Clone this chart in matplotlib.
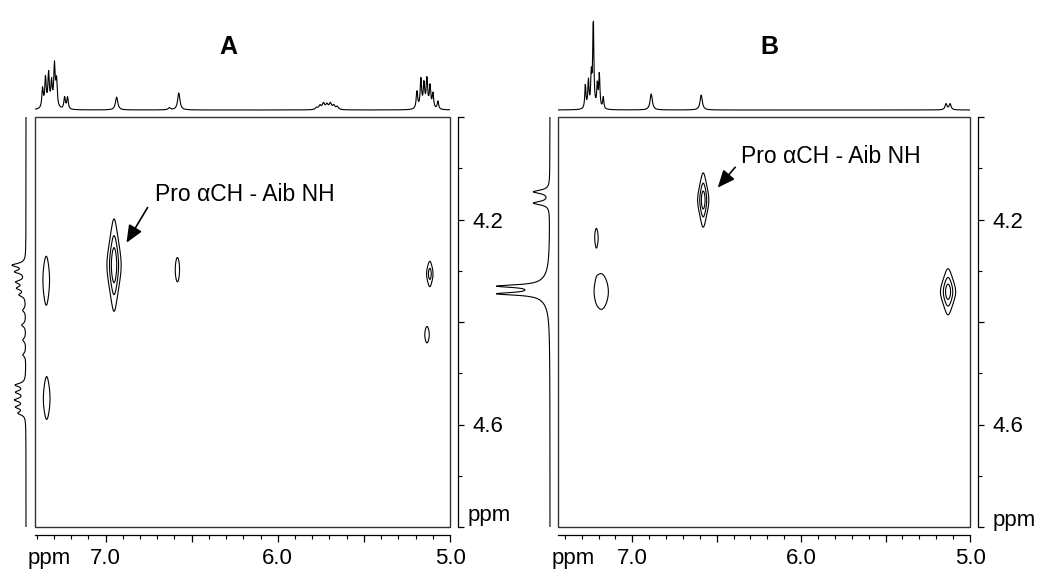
import numpy as np
import matplotlib
matplotlib.use('Agg')
import matplotlib.pyplot as plt
from matplotlib.patches import Rectangle

plt.rcParams['font.family'] = ['Liberation Sans', 'DejaVu Sans']

W, H = 1044, 570

# ---- data: 1D projections (ppm, height in px, half width in ppm) ----
a_top_ppm = [7.366, 7.349, 7.331, 7.314, 7.297, 7.285, 7.238, 7.221,
             6.936, 6.63, 6.575,
             5.775, 5.755, 5.735, 5.715, 5.695, 5.675, 5.655,
             5.192, 5.169, 5.151, 5.134, 5.116, 5.099, 5.07]
a_top_h = [20, 30, 34, 25, 42, 27, 12, 12,
           13, 2, 17,
           2, 4, 6, 5, 6, 4, 3,
           18, 29, 25, 30, 22, 15, 8]
a_top_w = [0.005] * 8 + [0.008, 0.008, 0.008] + [0.008] * 7 + [0.005] * 7

b_top_ppm = [7.278, 7.260, 7.243, 7.231, 7.207, 7.195, 7.172,
             6.888, 6.592, 5.142, 5.118]
b_top_h = [24, 28, 32, 90, 24, 34, 12, 16, 15, 6, 6]
b_top_w = [0.004] * 7 + [0.008, 0.008, 0.007, 0.007]

a_side_ppm = [4.289, 4.302, 4.322, 4.334, 4.347, 4.377, 4.406, 4.435, 4.464,
              4.523, 4.537, 4.552, 4.566, 4.578]
a_side_h = [13, 10, 9, 8, 6, 3, 4, 3, 3, 10, 9, 10, 9, 7]
a_side_w = [0.004] * 14

b_side_ppm = [4.146, 4.168, 4.330, 4.345, 4.338]
b_side_h = [16, 16, 40, 40, 14]
b_side_w = [0.004, 0.004, 0.003, 0.003, 0.02]

# ---- data: 2D cross peaks (F2 ppm, F1 ppm, half extents, amplitude) ----
a_peak_x = [6.951, 7.345, 7.342, 6.583, 5.117, 5.134]
a_peak_y = [4.289, 4.318, 4.550, 4.298, 4.306, 4.425]
a_peak_dx = [0.041, 0.018, 0.018, 0.012, 0.018, 0.012]
a_peak_dy = [0.090, 0.043, 0.037, 0.023, 0.024, 0.015]
a_peak_amp = [1.0, 0.4, 0.4, 0.32, 0.55, 0.35]

b_peak_x = [6.580, 7.213, 7.183, 5.130]
b_peak_y = [4.162, 4.234, 4.341, 4.341]
b_peak_dx = [0.033, 0.006, 0.041, 0.045]
b_peak_dy = [0.053, 0.011, 0.034, 0.045]
b_peak_amp = [0.9, 0.3, 0.35, 0.9]

levels = [0.25, 0.45, 0.7]
x_major = [7.0, 6.5, 6.0, 5.5, 5.0]
x_labels = ['7.0', '', '6.0', '', '5.0']
y_major = [4.0, 4.2, 4.4, 4.6, 4.8]
y_labels = ['', '4.2', '', '4.6', '']


def lines(grid, pos, h, w):
    out = np.zeros_like(grid)
    for c, a, s in zip(pos, h, w):
        out += a / (1 + ((grid - c) / s) ** 2)
    return out


def rect(l, t, r, b):
    return [l / W, 1 - b / H, (r - l) / W, (b - t) / H]


fig = plt.figure(figsize=(W / 100, H / 100), dpi=100)


def panel(left, right, xlim, side_px, side_lim, title, title_x,
          top, side, peaks, arrow):
    # main contour box
    ax = fig.add_axes(rect(left, 117, right, 527))
    gx = np.linspace(xlim[0], xlim[1], 1000)
    gy = np.linspace(4.0, 4.8, 900)
    X, Y = np.meshgrid(gx, gy)
    Z = np.zeros_like(X)
    for cx, cy, dx, dy, amp in zip(*peaks):
        k = np.sqrt(amp / levels[0] - 1)
        Z += amp / ((1 + ((X - cx) / (dx / k)) ** 2) * (1 + ((Y - cy) / (dy / k)) ** 2))
    ax.contour(X, Y, Z, levels=levels, colors='k', linewidths=0.8)
    ax.set_xlim(*xlim)
    ax.set_ylim(4.8, 4.0)
    ax.add_patch(Rectangle((0, 0), 1, 1, transform=ax.transAxes, fill=False,
                           lw=1.0, ec='#333333', clip_on=False))
    for s in ['left', 'top']:
        ax.spines[s].set_visible(False)
    for s in ['bottom', 'right']:
        ax.spines[s].set_position(('outward', 6))
        ax.spines[s].set_linewidth(0.9)
    ax.yaxis.tick_right()
    ax.set_xticks(x_major, x_labels)
    ax.set_xticks(np.arange(5.0, xlim[0], 0.1), minor=True)
    ax.set_yticks(y_major, y_labels)
    ax.set_yticks(np.arange(4.0, 4.81, 0.1), minor=True)
    ax.tick_params(axis='x', which='major', length=5, width=0.9, labelsize=16, pad=4)
    ax.tick_params(axis='x', which='minor', length=3, width=0.8)
    ax.tick_params(axis='y', which='major', length=4, width=0.9, labelsize=16, pad=6)
    ax.tick_params(axis='y', which='minor', length=3, width=0.8)
    ax.annotate('', xy=arrow[0], xytext=arrow[1],
                arrowprops=dict(arrowstyle='-|>,head_length=0.7,head_width=0.3',
                                color='k', lw=1.2, mutation_scale=15))
    ax.text(arrow[2][0], arrow[2][1], 'Pro \u03b1CH - Aib NH', fontsize=16.5,
            ha='left', va='center')

    # top projection
    at = fig.add_axes(rect(left, 10, right, 113))
    at.plot(gx, lines(gx, *top), color='k', lw=0.8)
    at.set_xlim(*xlim)
    at.set_ylim(-3, 100)
    at.axis('off')

    # side projection
    asd = fig.add_axes(rect(side_px[0], 117, side_px[1], 527))
    asd.plot(lines(gy, *side), gy, color='k', lw=0.8)
    asd.set_xlim(*side_lim)
    asd.set_ylim(4.8, 4.0)
    asd.axis('off')

    fig.text(title_x / W, 1 - 47 / H, title, fontsize=18, fontweight='bold',
             ha='center', va='center')


panel(35, 450, (7.41, 5.0), (0, 33), (26, -7), 'A', 228,
      (a_top_ppm, a_top_h, a_top_w), (a_side_ppm, a_side_h, a_side_w),
      (a_peak_x, a_peak_y, a_peak_dx, a_peak_dy, a_peak_amp),
      ((6.887, 4.250), (6.748, 4.172), (6.713, 4.152)))
panel(558, 970, (7.44, 5.0), (490, 556), (60, -6), 'B', 769,
      (b_top_ppm, b_top_h, b_top_w), (b_side_ppm, b_side_h, b_side_w),
      (b_peak_x, b_peak_y, b_peak_dx, b_peak_dy, b_peak_amp),
      ((6.505, 4.142), (6.380, 4.094), (6.357, 4.078)))

fig.text(28 / W, 1 - 564 / H, 'ppm', fontsize=16, va='baseline')
fig.text(552 / W, 1 - 564 / H, 'ppm', fontsize=16, va='baseline')
fig.text(468 / W, 1 - 521 / H, 'ppm', fontsize=16, va='baseline')
fig.text(993 / W, 1 - 526 / H, 'ppm', fontsize=16, va='baseline')

fig.savefig('out.png', dpi=100)
